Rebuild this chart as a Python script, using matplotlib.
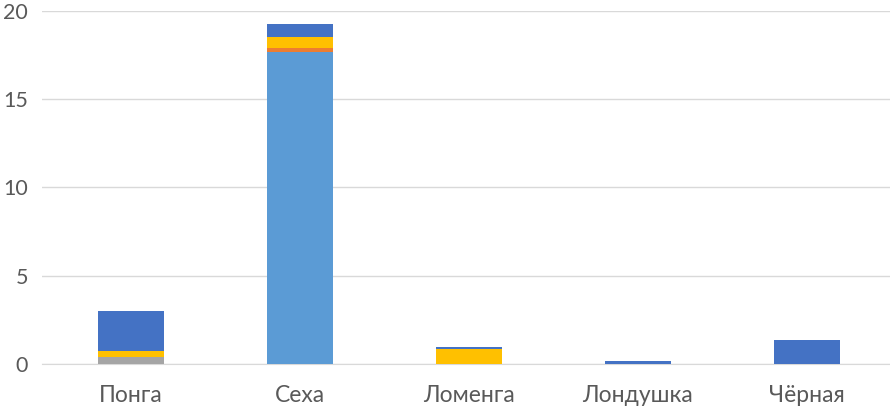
import numpy as np
import matplotlib.pyplot as plt

plt.rcParams['font.family'] = ['Lato', 'DejaVu Sans']

categories = ["Понга", "Сеха", "Ломенга", "Лондушка", "Чёрная"]
s_gray = [0.4, 0.0, 0.0, 0.0, 0.0]
s_light = [0.0, 17.7, 0.0, 0.0, 0.0]
s_orange = [0.0, 0.2, 0.0, 0.0, 0.0]
s_yellow = [0.35, 0.6, 0.85, 0.0, 0.0]
s_dark = [2.25, 0.75, 0.12, 0.15, 1.35]

series = [(s_gray, "#A5A5A5"), (s_light, "#5B9BD5"), (s_orange, "#ED7D31"),
          (s_yellow, "#FFC000"), (s_dark, "#4472C4")]

fig = plt.figure(figsize=(8.9, 4.07), dpi=100)
ax = fig.add_axes([42/890, 43/407, 848/890, 353/407])

x = np.arange(len(categories))
bottom = np.zeros(len(categories))
for vals, c in series:
    ax.bar(x, vals, 0.39, bottom=bottom, color=c, zorder=3)
    bottom += np.array(vals)

ax.set_xlim(-0.527, 4.494)
ax.set_ylim(0, 20)
ax.set_yticks([0, 5, 10, 15, 20])
ax.set_xticks(x)
ax.set_xticklabels(categories)
ax.yaxis.grid(True, color="#D9D9D9", lw=1, zorder=0)
for s in ["top", "right", "left"]:
    ax.spines[s].set_visible(False)
ax.spines["bottom"].set_color("#D9D9D9")
ax.tick_params(axis="both", length=0, colors="#595959")
ax.tick_params(axis="x", labelsize=16.5, pad=15)
ax.tick_params(axis="y", labelsize=15.5, pad=10)

fig.savefig("out.png", dpi=100)
